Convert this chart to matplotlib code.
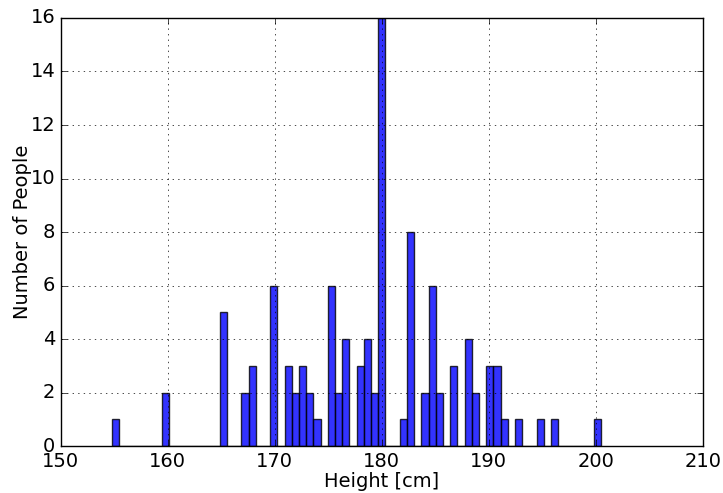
import numpy as np
import matplotlib
matplotlib.use('Agg')
import matplotlib.pyplot as plt

plt.style.use('classic')

# heights range and number of histogram bins
H_MIN, H_MAX = 154.77, 200.53
NBINS = 68
# non-empty bins: index -> count
bin_idx = [0, 7, 15, 18, 19, 22, 24, 25, 26, 27, 28, 30, 31, 32, 34, 35, 36, 37,
           40, 41, 43, 44, 45, 47, 49, 50, 52, 53, 54, 56, 59, 61, 67]
bin_cnt = [1, 2, 5, 2, 3, 6, 3, 2, 3, 2, 1, 6, 2, 4, 3, 4, 2, 16,
           1, 8, 2, 6, 2, 3, 4, 2, 3, 3, 1, 1, 1, 1, 1]

edges = np.linspace(H_MIN, H_MAX, NBINS + 1)
centers = 0.5 * (edges[:-1] + edges[1:])
counts = np.zeros(NBINS)
counts[bin_idx] = bin_cnt

fig = plt.figure(figsize=(7.23, 4.93), dpi=100)
ax = fig.add_subplot(111)
fig.subplots_adjust(left=0.084, right=0.972, top=0.9635, bottom=0.0953)

ax.hist(centers, bins=edges, weights=counts, alpha=0.8)

ax.set_xlim(150, 210)
ax.set_ylim(0, 16)
ax.grid(True)
ax.tick_params(labelsize=14)
ax.set_xlabel('Height [cm]', fontsize=14, labelpad=1)
ax.set_ylabel('Number of People', fontsize=14, labelpad=-1)

fig.savefig('out.png', dpi=100, facecolor='w')
